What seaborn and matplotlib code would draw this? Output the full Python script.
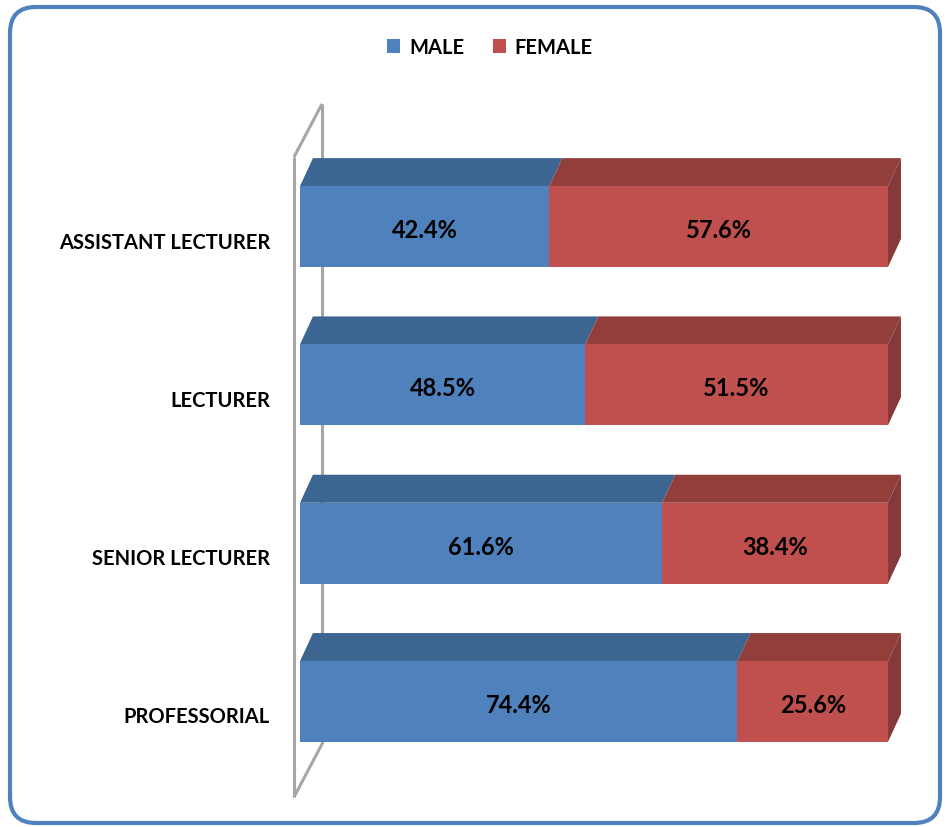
import pandas as pd
import seaborn as sns
import matplotlib.pyplot as plt
from matplotlib.patches import Polygon, Patch, FancyBboxPatch
from matplotlib.transforms import IdentityTransform

# chart values
categories = ['ASSISTANT LECTURER', 'LECTURER', 'SENIOR LECTURER', 'PROFESSORIAL']
male = [42.4, 48.5, 61.6, 74.4]
female = [57.6, 51.5, 38.4, 25.6]
series_names = ['MALE', 'FEMALE']

df = pd.DataFrame({'category': categories, 'male': male, 'female': female})
df['total'] = df['male'] + df['female']

sns.set_style("white")
plt.rcParams['font.family'] = ['Lato', 'DejaVu Sans']
plt.rcParams['text.color'] = 'black'

blue, blue_top = '#4F81BD', '#3C6591'
red, red_top, red_side = '#C0504D', '#923F3C', '#85393A'

fig = plt.figure(figsize=(9.47, 8.28), dpi=100)
ax = fig.add_axes([0, 0, 1, 1])

bw = 0.51          # bar thickness (category units)
dx, dy = 2.2, 0.177  # 3d depth offset

# back wall of the 3d plot
wall = dict(color='#A6A6A6', lw=2.2, zorder=1, solid_capstyle='butt')
ax.plot([3.74, 3.74], [-0.774, 3.269], **wall)
ax.plot([-1.02, -1.02], [-0.439, 3.604], **wall)
ax.plot([-1.02, 3.74], [-0.439, -0.774], **wall)
ax.plot([-1.02, 3.74], [3.604, 3.269], **wall)

# front faces: full bar in red, male part over it in blue
sns.barplot(data=df, x='total', y='category', color=red, orient='h',
            width=bw, saturation=1, ax=ax, zorder=3, linewidth=0, edgecolor='none')
sns.barplot(data=df, x='male', y='category', color=blue, orient='h',
            width=bw, saturation=1, ax=ax, zorder=4, linewidth=0, edgecolor='none')

for i, (m, f) in enumerate(zip(male, female)):
    top, bot = i - bw / 2, i + bw / 2
    t = m + f
    ax.add_patch(Polygon([(0, top), (m, top), (m + dx, top - dy), (dx, top - dy)],
                         closed=True, fc=blue_top, ec='none', zorder=2))
    ax.add_patch(Polygon([(m, top), (t, top), (t + dx, top - dy), (m + dx, top - dy)],
                         closed=True, fc=red_top, ec='none', zorder=2))
    ax.add_patch(Polygon([(t, top), (t + dx, top - dy), (t + dx, bot - dy), (t, bot)],
                         closed=True, fc=red_side, ec='none', zorder=2))
    ax.text(m / 2, i + 0.02, f'{m:.1f}%', ha='center', va='center',
            fontsize=17, fontweight='bold', color='black', zorder=5)
    ax.text(m + f / 2, i + 0.02, f'{f:.1f}%', ha='center', va='center',
            fontsize=17, fontweight='bold', color='black', zorder=5)
    ax.text(-5.1, i + 0.095, categories[i], ha='right', va='center',
            fontsize=14.5, fontweight='bold', color='black')

ax.set_xlim(-51.02, 110.03)
ax.set_ylim(3.793, -1.437)
ax.axis('off')

handles = [Patch(fc=blue, ec='none'), Patch(fc=red, ec='none')]
leg = fig.legend(handles, series_names, loc='center', bbox_to_anchor=(490 / 947, 1 - 48 / 828),
                 ncol=2, frameon=False, fontsize=14.5,
                 handlelength=0.65, handleheight=0.65, handletextpad=0.45, columnspacing=1.4)
for txt in leg.get_texts():
    txt.set_color('black')
    txt.set_fontweight('bold')

# rounded chart border
fig.patches.append(FancyBboxPatch((10, 4), 930, 816, boxstyle='round,pad=0,rounding_size=26',
                                  transform=IdentityTransform(), fill=False,
                                  ec='#4F81BD', lw=3, figure=fig))

plt.savefig('out.png', dpi=100)
